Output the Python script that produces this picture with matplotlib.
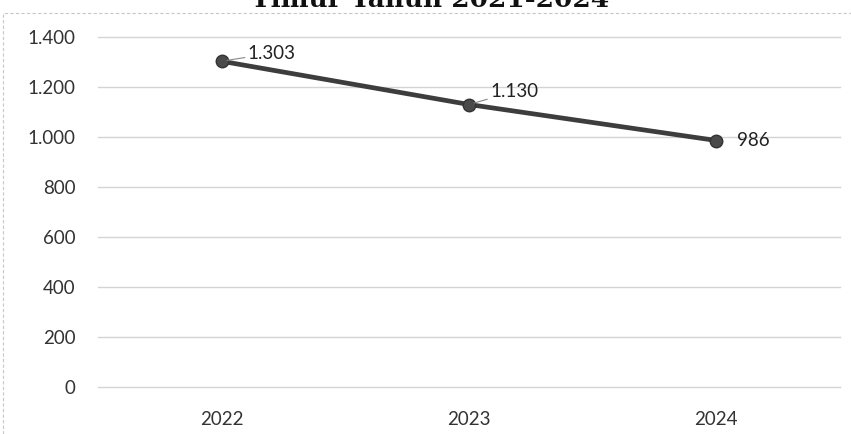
import matplotlib
matplotlib.use('Agg')
import matplotlib.pyplot as plt
from matplotlib.patches import Rectangle

years = ['2022', '2023', '2024']
values = [1303, 1130, 986]
value_labels = ['1.303', '1.130', '986']
y_ticks = [0, 200, 400, 600, 800, 1000, 1200, 1400]
y_tick_labels = ['0', '200', '400', '600', '800', '1.000', '1.200', '1.400']
title = 'Timur Tahun 2021-2024'

W, H = 851, 434
fig = plt.figure(figsize=(W / 100, H / 100), dpi=100)
ax = fig.add_axes([98 / W, 1 - 387 / H, (840 - 98) / W, 350 / H])

x = list(range(len(years)))
ax.plot(x, values, color='#3d3d3d', linewidth=3.4, marker='o', markersize=9,
        markerfacecolor='#4a4a4a', markeredgecolor='#333333', zorder=3)

ax.set_xlim(-0.5, len(years) - 0.5)
ax.set_ylim(0, 1400)
ax.set_yticks(y_ticks)
ax.set_yticklabels(y_tick_labels)
ax.set_xticks(x)
ax.set_xticklabels(years)
ax.tick_params(axis='both', length=0, labelsize=13.5, colors='#333333')
ax.tick_params(axis='y', pad=16)
ax.tick_params(axis='x', pad=17)
for lbl in ax.get_xticklabels() + ax.get_yticklabels():
    lbl.set_fontfamily('Lato')
ax.grid(axis='y', color='#d4d4d4', linewidth=1)
for gl in ax.get_ygridlines():
    gl.set_clip_on(False)
ax.set_axisbelow(True)
for s in ax.spines.values():
    s.set_visible(False)

# data labels with short leader lines (offsets in pixels)
offsets = [(26, 8), (21, 13), (21, 0)]
for xi, v, lab, (dx, dy) in zip(x, values, value_labels, offsets):
    if dy > 0:
        ax.annotate(lab, (xi, v), xytext=(dx * 0.72, dy * 0.72), textcoords='offset points',
                    fontsize=13.5, fontfamily='Lato', color='#222222', va='center', ha='left',
                    arrowprops=dict(arrowstyle='-', color='#888888', lw=0.8,
                                    shrinkA=0, shrinkB=4))
    else:
        ax.annotate(lab, (xi, v), xytext=(dx * 0.72, 0), textcoords='offset points',
                    fontsize=13.5, fontfamily='Lato', color='#222222', va='center', ha='left')

# title, partly cut off at the top as in the source
fig.text(430 / W, 1 - 7 / H, title, ha='center', va='baseline', fontsize=19,
         fontweight='bold', fontfamily='DejaVu Serif', color='#111111')

# chart area border
fig.patches.append(Rectangle((3 / W, -0.05), 1.2, 1 - 13 / H + 0.05, transform=fig.transFigure,
                             fill=False, edgecolor='#c8c8c8', linewidth=0.8, linestyle=(0, (3, 2))))

fig.savefig('out.png', dpi=100)
